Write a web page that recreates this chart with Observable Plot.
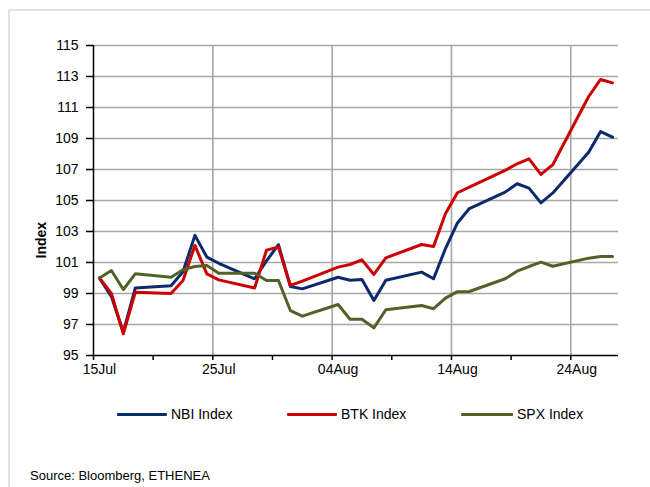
<!DOCTYPE html>
<html>
<head>
<meta charset="utf-8">
<script src="https://cdn.jsdelivr.net/npm/d3@7"></script>
<script src="https://cdn.jsdelivr.net/npm/@observablehq/plot@0.6"></script>
<style>
  html, body { margin: 0; padding: 0; background: #fff; }
  #wrap { position: relative; width: 650px; height: 487px; overflow: hidden; font-family: "Liberation Sans", Arial, sans-serif; }
  #border { position: absolute; left: 8px; top: 9px; right: -5px; bottom: -5px; border-top: 2px solid #e2e2e2; border-left: 2px solid #e2e2e2; }
  #chart { position: absolute; left: 0; top: 0; }
  .leg { position: absolute; top: 405px; height: 18px; font-size: 14px; line-height: 18px; color: #000; }
  .leg .sw { position: absolute; top: 8px; height: 3px; border-radius: 1px; }
  .leg .tx { position: absolute; top: 0; white-space: nowrap; }
  #source { position: absolute; left: 30px; top: 468px; font-size: 13px; color: #000; white-space: nowrap; }
</style>
</head>
<body>
<div id="wrap">
  <div id="border"></div>
  <div id="chart"></div>
  <div id="legend"></div>
  <div id="source">Source: Bloomberg, ETHENEA</div>
</div>
<script>
// ---- data ----
const dates = [
  "2014-07-15","2014-07-16","2014-07-17","2014-07-18",
  "2014-07-21","2014-07-22","2014-07-23","2014-07-24","2014-07-25",
  "2014-07-28","2014-07-29","2014-07-30","2014-07-31","2014-08-01",
  "2014-08-04","2014-08-05","2014-08-06","2014-08-07","2014-08-08",
  "2014-08-11","2014-08-12","2014-08-13","2014-08-14","2014-08-15",
  "2014-08-18","2014-08-19","2014-08-20","2014-08-21","2014-08-22",
  "2014-08-25","2014-08-26","2014-08-27"
];
const nbi = [
  100.0, 98.8, 96.5, 99.35,
  99.5, 100.4, 102.75, 101.35, 100.95,
  99.95, 101.1, 102.15, 99.45, 99.3,
  100.05, 99.85, 99.9, 98.55, 99.85,
  100.38, 99.95, 101.9, 103.55, 104.48,
  105.54, 106.08, 105.8, 104.85, 105.49,
  108.12, 109.45, 109.09
];
const btk = [
  100.0, 99.0, 96.4, 99.08,
  99.0, 99.84, 102.1, 100.27, 99.88,
  99.35, 101.8, 102.0, 99.52, 99.8,
  100.7, 100.87, 101.17, 100.23, 101.3,
  102.16, 102.03, 104.16, 105.5, 105.86,
  106.94, 107.37, 107.69, 106.68, 107.32,
  111.71, 112.81, 112.59
];
const spx = [
  100.0, 100.48, 99.26, 100.27,
  100.05, 100.53, 100.74, 100.8, 100.31,
  100.31, 99.84, 99.84, 97.9, 97.54,
  98.29, 97.34, 97.34, 96.78, 97.95,
  98.23, 98.02, 98.7, 99.12, 99.13,
  99.95, 100.44, 100.74, 101.02, 100.76,
  101.28, 101.39, 101.39
];
const seriesNames = ["NBI Index", "BTK Index", "SPX Index"];
const seriesColors = ["#0b2a6b", "#cc0000", "#4f6228"];
const yTicks = [95, 97, 99, 101, 103, 105, 107, 109, 111, 113, 115];
const xLabelDates = ["2014-07-15", "2014-07-25", "2014-08-04", "2014-08-14", "2014-08-24"];
const xTickDates = ["2014-07-15","2014-07-20","2014-07-25","2014-07-30","2014-08-04","2014-08-09","2014-08-14","2014-08-19","2014-08-24"];
const xDomain = ["2014-07-15", "2014-08-28"];
const yLabel = "Index";
const sourceText = "Source: Bloomberg, ETHENEA";

// ---- build ----
const HALF = 12 * 3600 * 1000;
const pd = s => new Date(s + "T00:00:00Z");
const mid = s => new Date(pd(s).getTime() + HALF);
const valueSets = [nbi, btk, spx];
const rows = [];
seriesNames.forEach((name, k) => {
  dates.forEach((d, i) => rows.push({series: name, date: mid(d), value: valueSets[k][i]}));
});

const font = '"Liberation Sans", Arial, sans-serif';
const plot = Plot.plot({
  width: 650,
  height: 395,
  marginLeft: 93,
  marginRight: 32,
  marginTop: 45,
  marginBottom: 40,
  style: {fontFamily: font, fontSize: "14px", color: "#000", background: "transparent"},
  x: {type: "utc", domain: xDomain.map(pd)},
  y: {domain: [95, 115]},
  color: {domain: seriesNames, range: seriesColors},
  marks: [
    Plot.ruleY(yTicks.filter(v => v > 95), {stroke: "#a6a6a6", strokeWidth: 1.6}),
    Plot.ruleX(xLabelDates.slice(1).map(pd), {stroke: "#a6a6a6", strokeWidth: 1.6}),
    Plot.ruleX([pd(xDomain[0])], {stroke: "#000", strokeWidth: 1.5}),
    Plot.ruleY([95], {stroke: "#000", strokeWidth: 1.5}),
    Plot.axisY({ticks: yTicks, tickSize: 7, tickPadding: 8, tickFormat: d => String(d), label: null, fontSize: 14, strokeWidth: 1.5}),
    Plot.axisX({ticks: xTickDates.map(pd), tickSize: 5, tickFormat: () => "", label: null, strokeWidth: 1.5}),
    Plot.axisX({ticks: xLabelDates.map(mid), tickSize: 0, tickPadding: 9, tickFormat: d3.utcFormat("%d%b"), label: null, fontSize: 14}),
    Plot.line(rows, {x: "date", y: "value", z: "series", stroke: "series", strokeWidth: 3, strokeLinejoin: "round", strokeLinecap: "round"}),
    Plot.text([yLabel], {frameAnchor: "left", dx: -52, dy: 58, rotate: -90, fontWeight: "bold", fontSize: 14})
  ]
});
document.getElementById("chart").appendChild(plot);

// legend
const legPos = [[117, 171], [287, 341], [461, 517]];
const leg = document.getElementById("legend");
seriesNames.forEach((name, k) => {
  const item = document.createElement("div");
  item.className = "leg";
  item.style.left = "0px";
  item.innerHTML = `<span class="sw" style="left:${legPos[k][0]}px;width:${legPos[k][1] - legPos[k][0] - 4}px;background:${seriesColors[k]}"></span><span class="tx" style="left:${legPos[k][1]}px">${name}</span>`;
  leg.appendChild(item);
});
document.getElementById("source").textContent = sourceText;
</script>
</body>
</html>
